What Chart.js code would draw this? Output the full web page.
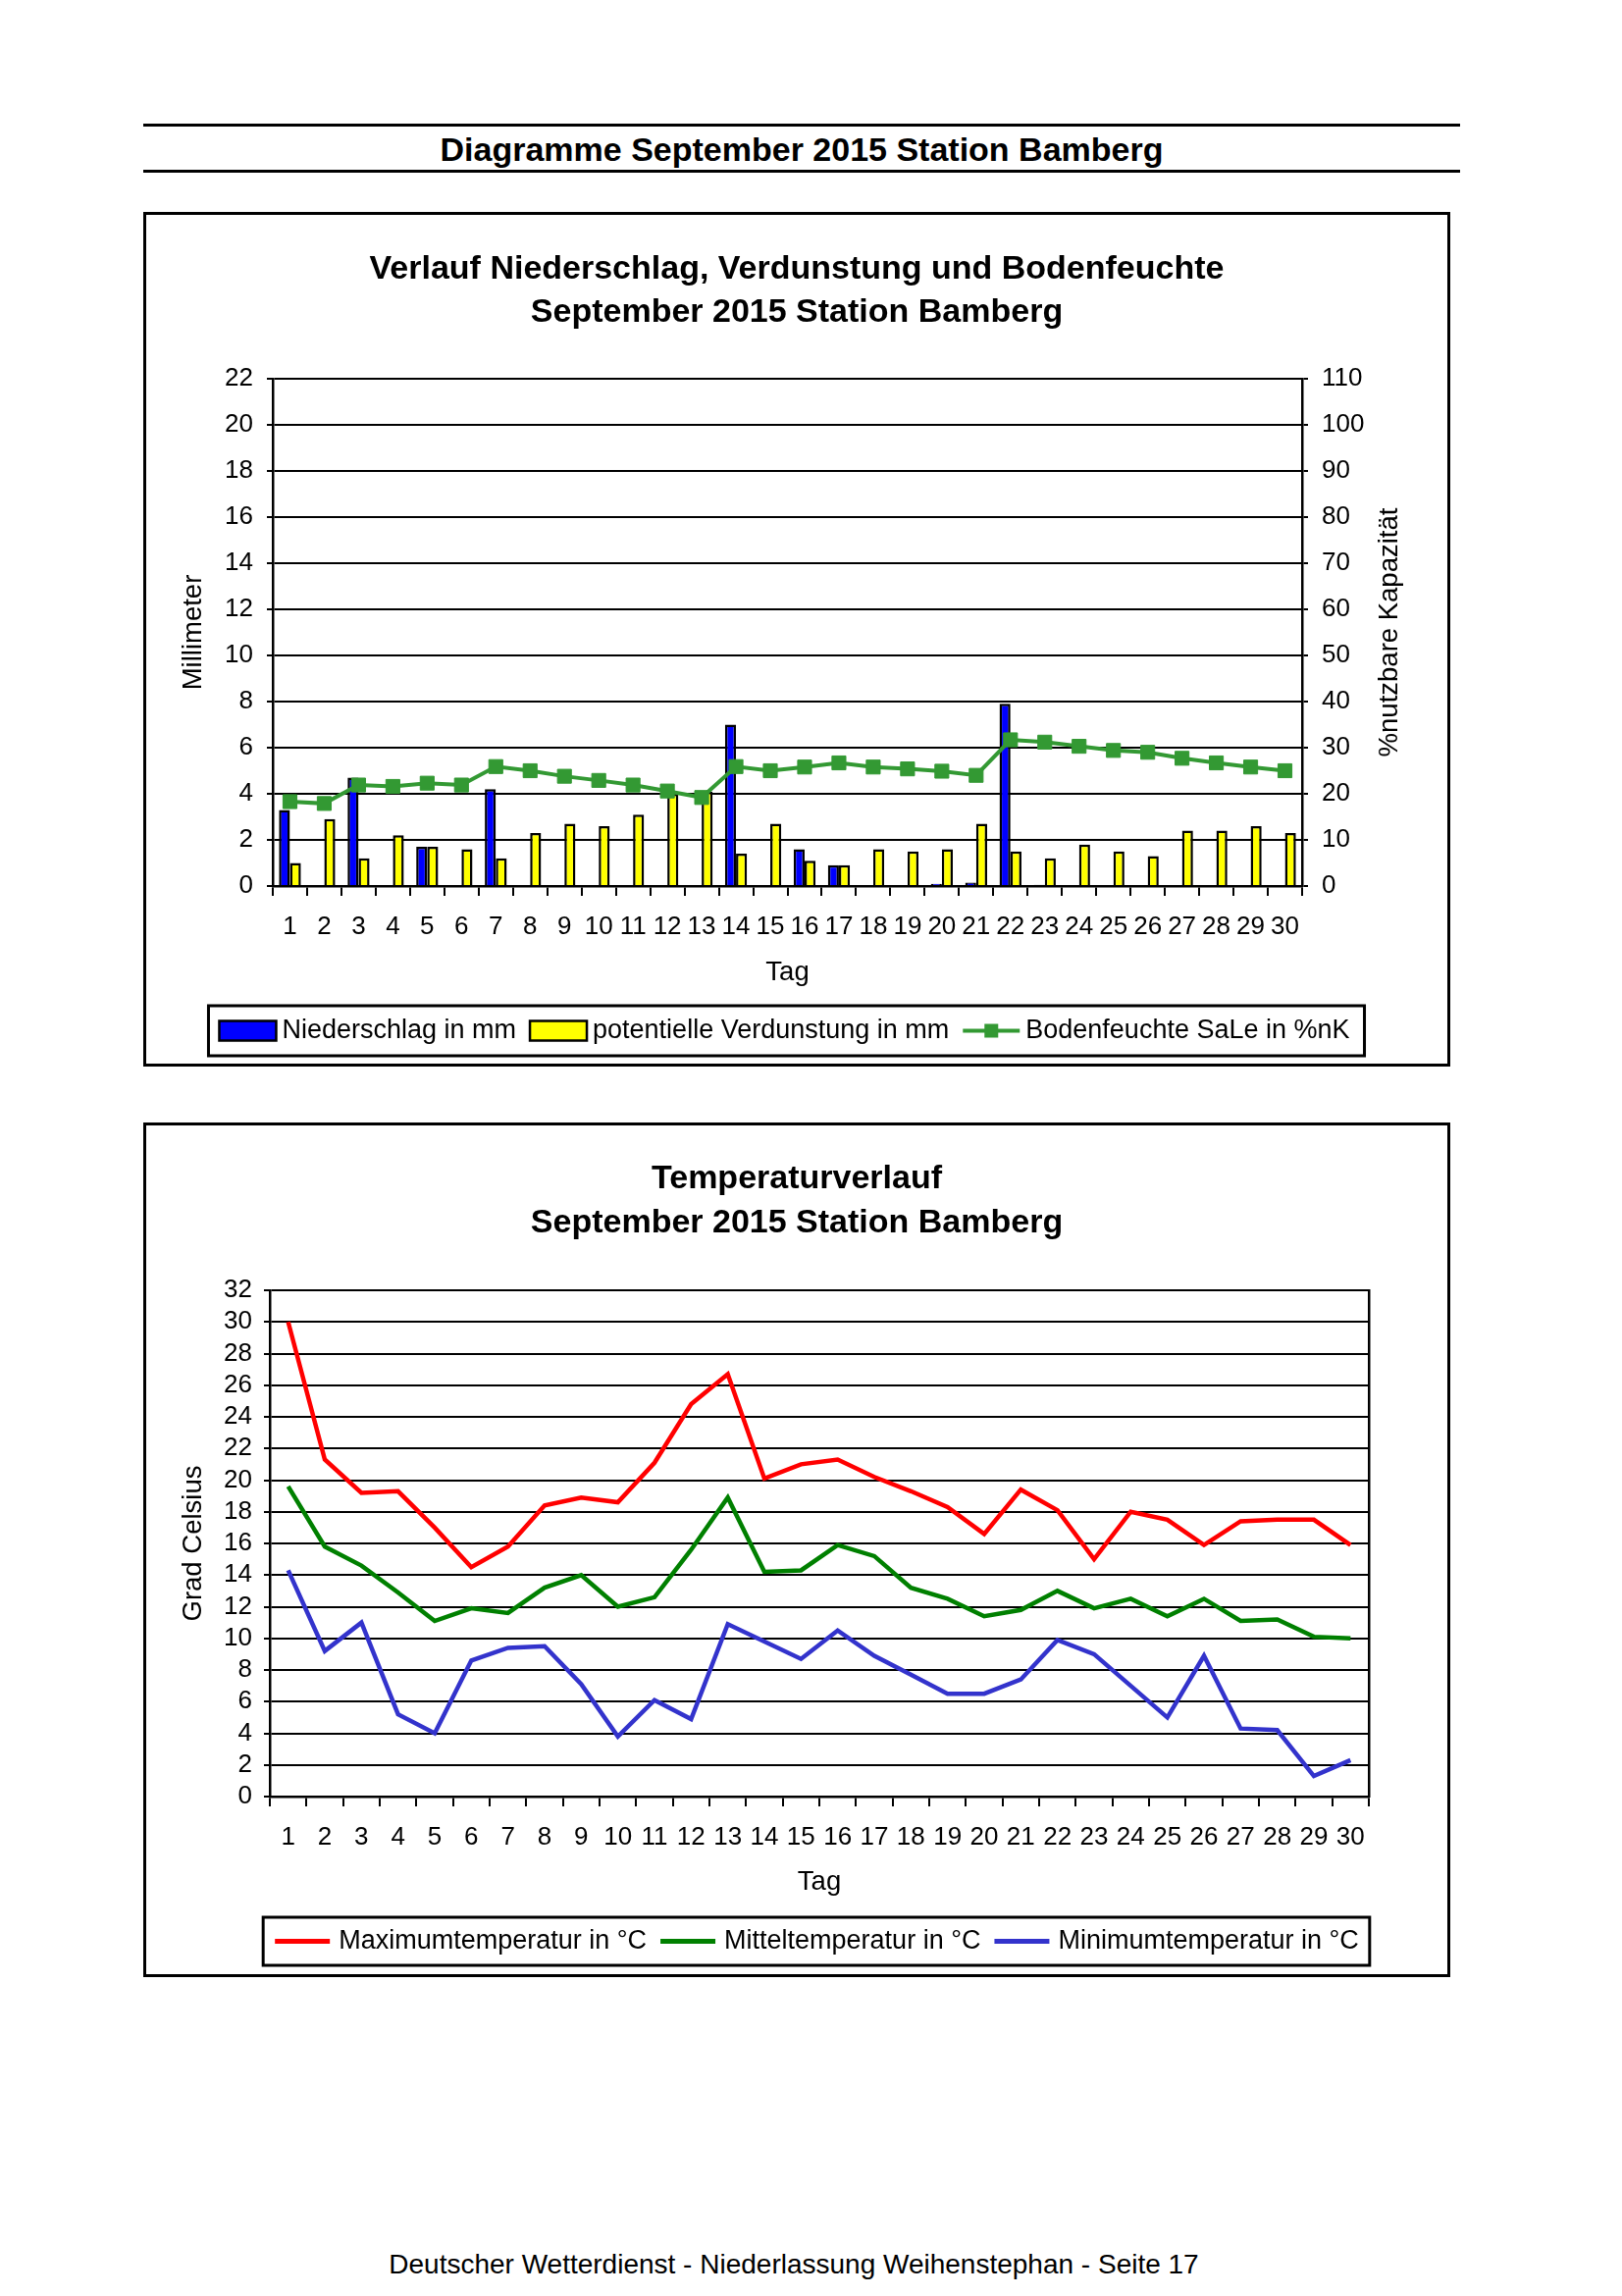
<!DOCTYPE html>
<html>
<head>
<meta charset="utf-8">
<script src="https://cdn.jsdelivr.net/npm/chart.js@4.4.1/dist/chart.umd.min.js"></script>
<style>
body { margin: 0; background: #fff; }
#seite { position: relative; width: 1653px; height: 2340px; background: #fff; font-family: "Liberation Sans", Arial, sans-serif; color: #000; }
.linie { position: absolute; left: 146px; width: 1342px; height: 3px; background: #000; }
#kopf { position: absolute; left: 146px; width: 1342px; top: 130px; height: 44px; line-height: 44px; text-align: center; font-weight: bold; font-size: 34px; }
.kasten { position: absolute; left: 146px; width: 1332px; height: 871px; border: 3px solid #000; box-sizing: border-box; }
canvas { position: absolute; left: 146px; }
#fuss { position: absolute; left: 0; width: 1618px; top: 2290px; height: 36px; line-height: 36px; text-align: center; font-size: 28px; }
</style>
</head>
<body>
<div id="seite">
  <div class="linie" style="top:126px"></div>
  <div id="kopf">Diagramme September 2015 Station Bamberg</div>
  <div class="linie" style="top:173px"></div>

  <div class="kasten" style="top:216px"></div>
  <canvas id="chart1" width="1332" height="871" style="top:216px"></canvas>

  <div class="kasten" style="top:1144px"></div>
  <canvas id="chart2" width="1332" height="871" style="top:1144px"></canvas>

  <div id="fuss">Deutscher Wetterdienst - Niederlassung Weihenstephan - Seite 17</div>
</div>
<script>
// # ===============================
// # = Daten September 2015
// # ===============================
var tage = ['1','2','3','4','5','6','7','8','9','10','11','12','13','14','15',
            '16','17','18','19','20','21','22','23','24','25','26','27','28','29','30'];

// Niederschlag in mm
var niederschlag = [3.3, 0, 4.7, 0, 1.7, 0, 4.2, 0, 0, 0, 0, 0, 0, 7.0, 0,
                    1.6, 0.9, 0, 0, 0.1, 0.15, 7.9, 0.05, 0, 0, 0, 0, 0, 0, 0];
// potentielle Verdunstung in mm
var verdunstung = [1.0, 2.9, 1.2, 2.2, 1.7, 1.6, 1.2, 2.3, 2.7, 2.6, 3.1, 4.0, 4.1, 1.4, 2.7,
                   1.1, 0.9, 1.6, 1.5, 1.6, 2.7, 1.5, 1.2, 1.8, 1.5, 1.3, 2.4, 2.4, 2.6, 2.3];
// Bodenfeuchte SaLe in %nK
var bodenfeuchte = [18.3, 17.9, 21.9, 21.6, 22.3, 21.9, 25.9, 25.0, 23.8, 22.9, 21.9, 20.6, 19.2, 25.9, 25.0,
                    25.8, 26.7, 25.8, 25.4, 24.9, 24.0, 31.7, 31.2, 30.3, 29.4, 29.0, 27.7, 26.7, 25.8, 25.0];

// Temperaturen in Grad Celsius
var tmax = [30.0, 21.3, 19.2, 19.3, 17.0, 14.5, 15.8, 18.4, 18.9, 18.6, 21.1, 24.8, 26.7, 20.1, 21.0,
            21.3, 20.2, 19.3, 18.3, 16.6, 19.4, 18.1, 15.0, 18.0, 17.5, 15.9, 17.4, 17.5, 17.5, 15.9];
var tmittel = [19.6, 15.8, 14.6, 12.9, 11.1, 11.9, 11.6, 13.2, 14.0, 12.0, 12.6, 15.6, 18.9, 14.2, 14.3,
               15.9, 15.2, 13.2, 12.5, 11.4, 11.8, 13.0, 11.9, 12.5, 11.4, 12.5, 11.1, 11.2, 10.1, 10.0];
var tmin = [14.3, 9.2, 11.0, 5.2, 4.0, 8.6, 9.4, 9.5, 7.1, 3.8, 6.1, 4.9, 10.9, 9.8, 8.7,
            10.5, 8.9, 7.7, 6.5, 6.5, 7.4, 9.9, 9.0, 7.0, 5.0, 8.9, 4.3, 4.2, 1.3, 2.3];

var schrift = '"Liberation Sans", Arial, sans-serif';
Chart.defaults.font.family = schrift;
Chart.defaults.font.size = 26;
Chart.defaults.color = '#000';
Chart.defaults.animation = false;

var titelSchrift = { size: 27.5 };

// Legende im Kasten unter dem Diagramm
var kastenLegende = {
	id: 'kastenLegende',
	afterDraw: function(chart, args, o) {
		var ctx = chart.ctx;
		ctx.save();
		ctx.font = o.schriftgroesse + 'px ' + schrift;
		var items = chart.data.datasets.map(function(ds) {
			var typ = ds.type || chart.config.type;
			return {
				text: ds.label,
				art: typ === 'bar' ? 'balken' : (ds.pointRadius ? 'punkt' : 'linie'),
				farbe: ds.backgroundColor,
				rand: ds.borderColor,
				breite: ctx.measureText(ds.label).width
			};
		});
		var gesamt = o.randLinks + o.randRechts + o.abstand * (items.length - 1);
		items.forEach(function(it) { gesamt += o.symbol + o.luecke + it.breite; });
		var links = o.mitte - gesamt / 2;
		var cy = o.oben + o.hoehe / 2;

		ctx.lineWidth = 3;
		ctx.strokeStyle = '#000';
		ctx.strokeRect(links, o.oben, gesamt, o.hoehe);

		var x = links + o.randLinks;
		items.forEach(function(it) {
			if (it.art === 'balken') {
				ctx.fillStyle = it.farbe;
				ctx.fillRect(x, cy - 10, o.symbol, 20);
				ctx.lineWidth = 2.5;
				ctx.strokeStyle = '#000';
				ctx.strokeRect(x, cy - 10, o.symbol, 20);
			} else {
				ctx.strokeStyle = it.rand;
				ctx.lineWidth = it.art === 'punkt' ? 4 : 5;
				ctx.beginPath();
				ctx.moveTo(x, cy);
				ctx.lineTo(x + o.symbol, cy);
				ctx.stroke();
				if (it.art === 'punkt') {
					ctx.fillStyle = it.farbe;
					ctx.fillRect(x + o.symbol / 2 - 7, cy - 7, 14, 14);
				}
			}
			x += o.symbol + o.luecke;
			ctx.fillStyle = '#000';
			ctx.textBaseline = 'middle';
			ctx.textAlign = 'left';
			ctx.fillText(it.text, x, cy);
			x += it.breite + o.abstand;
		});
		ctx.restore();
	}
};

// Achsentitel rechts, von unten nach oben gelesen
var rechterTitel = {
	id: 'rechterTitel',
	afterDraw: function(chart, args, o) {
		if (!o.text) return;
		var ctx = chart.ctx;
		var a = chart.chartArea;
		ctx.save();
		ctx.translate(a.right + o.abstand, (a.top + a.bottom) / 2);
		ctx.rotate(-Math.PI / 2);
		ctx.font = titelSchrift.size + 'px ' + schrift;
		ctx.fillStyle = '#000';
		ctx.textAlign = 'center';
		ctx.textBaseline = 'middle';
		ctx.fillText(o.text, 0, 0);
		ctx.restore();
	}
};

// # ===============================
// # = Niederschlag, Verdunstung, Bodenfeuchte
// # ===============================
new Chart(document.getElementById('chart1'), {
	type: 'bar',
	data: {
		labels: tage,
		datasets: [{
			label: 'Niederschlag in mm',
			data: niederschlag,
			backgroundColor: '#0000ff',
			borderColor: '#000000',
			borderWidth: 2.5,
			yAxisID: 'y',
			order: 1
		}, {
			label: 'potentielle Verdunstung in mm',
			data: verdunstung,
			backgroundColor: '#ffff00',
			borderColor: '#000000',
			borderWidth: 2.5,
			yAxisID: 'y',
			order: 1
		}, {
			type: 'line',
			label: 'Bodenfeuchte SaLe in %nK',
			data: bodenfeuchte,
			borderColor: '#339933',
			backgroundColor: '#339933',
			borderWidth: 4,
			pointStyle: 'rect',
			pointRadius: 10,
			pointBorderWidth: 1,
			tension: 0,
			yAxisID: 'y2',
			order: 0
		}]
	},
	options: {
		responsive: false,
		animation: false,
		categoryPercentage: 0.64,
		barPercentage: 1.0,
		layout: { padding: { left: 31, right: 31, top: 0, bottom: 70 } },
		plugins: {
			legend: { display: false },
			tooltip: { enabled: false },
			title: {
				display: true,
				text: ['Verlauf Niederschlag, Verdunstung und Bodenfeuchte', 'September 2015 Station Bamberg'],
				color: '#000',
				font: { size: 34, weight: 'bold', lineHeight: 44 / 34 },
				padding: { top: 37, bottom: 45 }
			},
			kastenLegende: { mitte: 655.5, oben: 809, hoehe: 51, schriftgroesse: 27, randLinks: 11, randRechts: 15, symbol: 58, luecke: 6, abstand: 14 },
			rechterTitel: { text: '%nutzbare Kapazität', abstand: 89 }
		},
		scales: {
			x: {
				offset: true,
				grid: { offset: true, drawOnChartArea: false, drawTicks: true, tickLength: 10, color: '#000', lineWidth: 2 },
				border: { color: '#000', width: 2.5 },
				ticks: { autoSkip: false, maxRotation: 0, padding: 16 },
				title: { display: true, text: 'Tag', font: titelSchrift, padding: { top: 0, bottom: 9 } },
				afterFit: function(s) { s.height = 114; }
			},
			y: {
				position: 'left',
				min: 0, max: 22,
				ticks: { stepSize: 2, padding: 14, autoSkip: false },
				grid: { color: '#000', lineWidth: 2, tickLength: 6 },
				border: { color: '#000', width: 2.5 },
				title: { display: true, text: 'Millimeter', font: titelSchrift, padding: { top: 4, bottom: 0 } },
				afterFit: function(s) { s.width = 101; }
			},
			y2: {
				position: 'right',
				min: 0, max: 110,
				ticks: { stepSize: 10, padding: 14, autoSkip: false },
				grid: { drawOnChartArea: false, color: '#000', lineWidth: 2, tickLength: 6 },
				border: { color: '#000', width: 2.5 },
				afterFit: function(s) { s.width = 120; }
			}
		}
	},
	plugins: [kastenLegende, rechterTitel]
});

// # ===============================
// # = Temperaturverlauf
// # ===============================
new Chart(document.getElementById('chart2'), {
	type: 'line',
	data: {
		labels: tage,
		datasets: [{
			label: 'Maximumtemperatur in °C',
			data: tmax,
			borderColor: '#ff0000',
			backgroundColor: '#ff0000',
			borderWidth: 4.5,
			pointRadius: 0,
			tension: 0
		}, {
			label: 'Mitteltemperatur in °C',
			data: tmittel,
			borderColor: '#008000',
			backgroundColor: '#008000',
			borderWidth: 4.5,
			pointRadius: 0,
			tension: 0
		}, {
			label: 'Minimumtemperatur in °C',
			data: tmin,
			borderColor: '#3333cc',
			backgroundColor: '#3333cc',
			borderWidth: 4.5,
			pointRadius: 0,
			tension: 0
		}]
	},
	options: {
		responsive: false,
		animation: false,
		layout: { padding: { left: 31, right: 31, top: 0, bottom: 70 } },
		plugins: {
			legend: { display: false },
			tooltip: { enabled: false },
			title: {
				display: true,
				text: ['Temperaturverlauf', 'September 2015 Station Bamberg'],
				color: '#000',
				font: { size: 34, weight: 'bold', lineHeight: 45 / 34 },
				padding: { top: 35.5, bottom: 45.5 }
			},
			kastenLegende: { mitte: 686, oben: 810, hoehe: 49, schriftgroesse: 27, randLinks: 12, randRechts: 11, symbol: 56, luecke: 9, abstand: 14 }
		},
		scales: {
			x: {
				offset: true,
				grid: { offset: true, drawOnChartArea: false, drawTicks: true, tickLength: 10, color: '#000', lineWidth: 2 },
				border: { color: '#000', width: 2.5 },
				ticks: { autoSkip: false, maxRotation: 0, padding: 16 },
				title: { display: true, text: 'Tag', font: titelSchrift, padding: { top: 0, bottom: 10 } },
				afterFit: function(s) { s.height = 114; }
			},
			y: {
				min: 0, max: 32,
				ticks: { stepSize: 2, padding: 12, autoSkip: false },
				grid: { color: '#000', lineWidth: 2, tickLength: 6 },
				border: { color: '#000', width: 2.5 },
				title: { display: true, text: 'Grad Celsius', font: titelSchrift, padding: { top: 4, bottom: 0 } },
				afterFit: function(s) { s.width = 98; }
			},
			// nur Rahmenlinie rechts
			rechts: {
				type: 'linear',
				position: 'right',
				min: 0, max: 32,
				ticks: { display: false },
				grid: { drawOnChartArea: false, drawTicks: false },
				border: { display: true, color: '#000', width: 2.5 },
				afterFit: function(s) { s.width = 52; }
			}
		}
	},
	plugins: [kastenLegende]
});
</script>
</body>
</html>
